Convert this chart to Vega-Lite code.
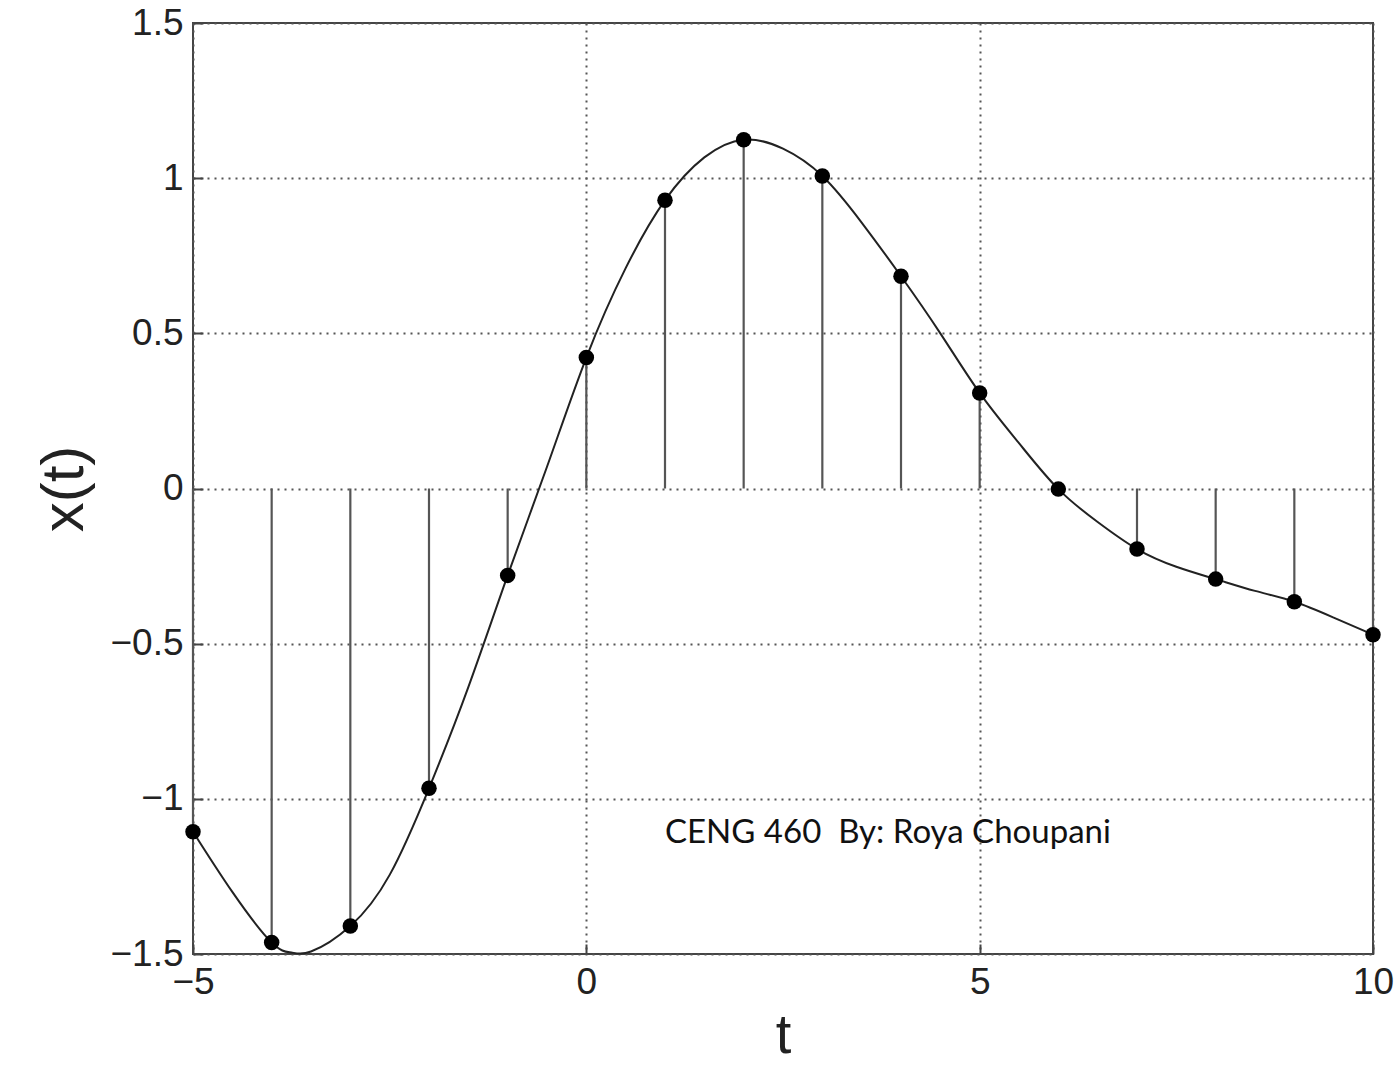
{
  "$schema": "https://vega.github.io/schema/vega-lite/v6.json",
  "width": 1180,
  "height": 931,
  "autosize": "none",
  "padding": {"left": 193, "top": 23, "right": 27, "bottom": 117},
  "background": "white",
  "config": {
    "view": {"stroke": "#444", "strokeWidth": 2},
    "axis": {
      "labelFont": "Liberation Sans",
      "labelFontSize": 37,
      "labelColor": "#222",
      "labelFlush": false,
      "titleFont": "Liberation Sans",
      "titleFontSize": 60,
      "titleFontWeight": "normal",
      "titleColor": "#222",
      "grid": true,
      "gridColor": "#555",
      "gridDash": [2, 5],
      "gridWidth": 2,
      "domain": false,
      "tickColor": "#444",
      "tickWidth": 2,
      "tickSize": -10,
      "labelPadding": 20
    }
  },
  "datasets": {
    "samples": [
      {"t": -5, "value": -1.106},
      {"t": -4, "value": -1.463},
      {"t": -3, "value": -1.41},
      {"t": -2, "value": -0.966},
      {"t": -1, "value": -0.28},
      {"t": 0, "value": 0.422},
      {"t": 1, "value": 0.929},
      {"t": 2, "value": 1.124},
      {"t": 3, "value": 1.007},
      {"t": 4, "value": 0.684},
      {"t": 5, "value": 0.308},
      {"t": 6, "value": -0.002},
      {"t": 7, "value": -0.195},
      {"t": 8, "value": -0.292},
      {"t": 9, "value": -0.365},
      {"t": 10, "value": -0.471}
    ],
    "curve": [
      {"t": -5, "value": -1.106},
      {"t": -4.5, "value": -1.3},
      {"t": -4, "value": -1.463},
      {"t": -3.75, "value": -1.495},
      {"t": -3.5, "value": -1.492},
      {"t": -3, "value": -1.41},
      {"t": -2.5, "value": -1.245},
      {"t": -2, "value": -0.966},
      {"t": -1.5, "value": -0.64},
      {"t": -1, "value": -0.28},
      {"t": -0.5, "value": 0.07},
      {"t": 0, "value": 0.422},
      {"t": 0.5, "value": 0.71},
      {"t": 1, "value": 0.929},
      {"t": 1.5, "value": 1.067},
      {"t": 2, "value": 1.124},
      {"t": 2.5, "value": 1.095},
      {"t": 3, "value": 1.007},
      {"t": 3.5, "value": 0.857},
      {"t": 4, "value": 0.684},
      {"t": 4.5, "value": 0.5},
      {"t": 5, "value": 0.308},
      {"t": 5.5, "value": 0.146},
      {"t": 6, "value": -0.002},
      {"t": 6.5, "value": -0.108},
      {"t": 7, "value": -0.195},
      {"t": 7.5, "value": -0.252},
      {"t": 8, "value": -0.292},
      {"t": 8.5, "value": -0.33},
      {"t": 9, "value": -0.365},
      {"t": 9.5, "value": -0.416},
      {"t": 10, "value": -0.471}
    ],
    "notes": [
      {"label": "CENG 460\u00a0 By: Roya Choupani"}
    ]
  },
  "layer": [
    {
      "data": {"name": "samples"},
      "mark": {"type": "rule", "color": "#555", "strokeWidth": 2.2},
      "encoding": {
        "x": {
          "field": "t",
          "type": "quantitative",
          "scale": {"domain": [-5, 10], "nice": false, "zero": false},
          "axis": {"values": [-5, 0, 5, 10], "format": "~r", "title": "t", "titlePadding": 8, "titleFontSize": 56}
        },
        "y": {
          "field": "value",
          "type": "quantitative",
          "scale": {"domain": [-1.5, 1.5], "nice": false, "zero": false},
          "axis": {"values": [-1.5, -1, -0.5, 0, 0.5, 1, 1.5], "format": "~r", "title": "x(t)", "titlePadding": 14}
        },
        "y2": {"datum": 0}
      }
    },
    {
      "data": {"name": "curve"},
      "mark": {"type": "line", "color": "#222", "strokeWidth": 2, "interpolate": "natural"},
      "encoding": {
        "x": {"field": "t", "type": "quantitative"},
        "y": {"field": "value", "type": "quantitative"}
      }
    },
    {
      "data": {"name": "samples"},
      "mark": {"type": "circle", "color": "#000", "opacity": 1, "size": 240},
      "encoding": {
        "x": {"field": "t", "type": "quantitative"},
        "y": {"field": "value", "type": "quantitative"}
      }
    },
    {
      "data": {"name": "notes"},
      "mark": {"type": "text", "align": "left", "baseline": "middle", "font": "Lato", "fontSize": 33, "fill": "#111"},
      "encoding": {
        "x": {"datum": 1, "type": "quantitative"},
        "y": {"datum": -1.11, "type": "quantitative"},
        "text": {"field": "label", "type": "nominal"}
      }
    }
  ]
}
